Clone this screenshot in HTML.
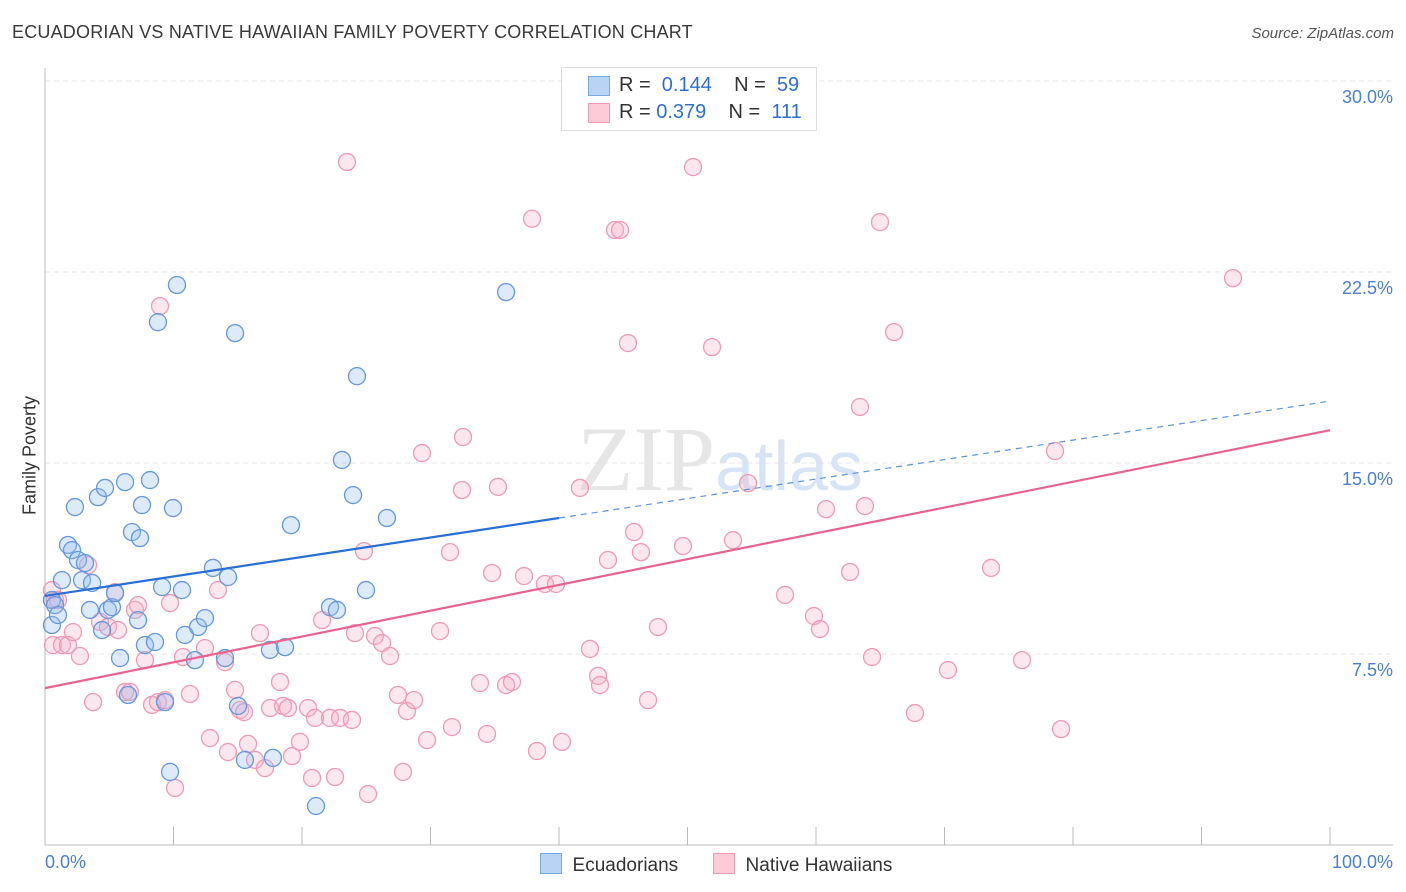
<!DOCTYPE html>
<html><head><meta charset="utf-8">
<style>
body{margin:0;background:#fff;font-family:"Liberation Sans",sans-serif;}
#wrap{position:relative;width:1406px;height:892px;overflow:hidden;}
.t{position:absolute;white-space:nowrap;}
</style></head>
<body>
<div id="wrap">
<div class="t" style="left:12px;top:22px;font-size:18px;color:#3a3a3a;letter-spacing:0.2px">ECUADORIAN VS NATIVE HAWAIIAN FAMILY POVERTY CORRELATION CHART</div>
<div class="t" style="right:12px;top:25px;font-size:15px;color:#555;font-style:italic">Source: ZipAtlas.com</div>
<svg id="svg" width="1406" height="892" style="position:absolute;left:0;top:0"></svg>
</div>
<script>
const yTicks=[7.5,15,22.5,30];
const yTickLabels=["7.5%","15.0%","22.5%","30.0%"];
const xTicks=[0,10,20,30,40,50,60,70,80,90,100];
const blueX=[0.54,0.78,0.54,1.01,1.32,1.79,2.10,2.33,2.57,3.11,2.88,3.66,3.50,4.12,4.67,4.44,4.90,5.21,5.45,5.84,6.23,6.46,6.77,7.39,7.24,7.55,7.78,8.17,8.56,8.79,9.11,9.73,9.96,10.27,10.66,10.89,11.67,11.91,12.45,13.07,14.01,14.24,14.79,15.02,15.56,17.51,17.74,18.68,19.14,21.09,22.18,22.72,23.11,23.97,24.28,24.98,26.61,35.88,9.34];
const blueY=[9.62,9.42,8.64,9.03,10.40,11.78,11.58,13.27,11.19,11.07,10.40,10.29,9.23,13.66,14.02,8.44,9.23,9.34,9.89,7.34,14.25,5.89,12.29,12.05,8.83,13.35,7.85,14.33,7.97,20.53,10.13,2.87,13.23,21.99,10.01,8.25,7.26,8.56,8.91,10.88,7.34,10.52,20.10,5.46,3.34,7.66,3.42,7.77,12.56,1.53,9.34,9.23,15.12,13.74,18.41,10.01,12.84,21.71,5.61];
const pinkX=[0.54,0.78,0.62,1.01,1.32,1.79,2.18,2.72,3.35,3.74,4.28,4.90,5.45,5.68,6.23,6.61,7.00,7.24,7.78,8.33,8.79,8.95,9.34,9.73,10.12,10.74,11.28,12.45,12.84,13.46,14.01,14.24,14.79,15.18,15.49,15.80,16.34,16.73,17.12,17.51,18.29,18.52,18.91,19.22,19.84,20.47,20.78,21.01,21.56,22.18,22.57,22.96,23.50,23.89,24.12,24.82,25.14,25.68,26.23,26.85,27.47,27.86,28.17,28.72,29.34,29.73,30.74,31.52,31.67,32.45,32.53,33.85,34.40,34.79,35.25,35.88,36.34,37.28,37.90,38.29,38.91,39.77,40.23,41.63,42.41,43.04,43.19,43.81,44.36,44.75,45.37,45.84,46.38,46.93,47.70,49.65,50.43,51.91,53.54,54.71,57.59,59.84,60.31,60.78,62.65,63.42,63.81,64.36,64.98,66.07,67.70,70.27,73.62,76.03,78.60,79.07,92.45];
const pinkY=[10.01,9.62,7.85,9.62,7.85,7.85,8.36,7.42,10.99,5.61,8.76,8.56,9.93,8.44,6.01,6.01,9.23,9.42,7.26,5.50,5.61,21.16,5.69,9.50,2.24,7.38,5.93,7.73,4.20,10.01,7.18,3.65,6.09,5.30,5.22,3.97,3.34,8.32,3.02,5.38,6.40,5.46,5.38,3.49,4.05,5.38,2.63,4.99,8.83,4.99,2.67,4.99,26.82,4.91,8.32,11.54,2.00,8.21,7.93,7.42,5.89,2.87,5.26,5.69,15.39,4.12,8.40,11.50,4.63,13.94,16.02,6.36,4.36,10.68,14.06,6.28,6.40,10.56,24.59,3.69,10.25,10.25,4.05,14.02,7.70,6.64,6.28,11.19,24.15,24.15,19.71,12.29,11.50,5.69,8.56,11.74,26.62,19.55,11.97,14.21,9.82,8.99,8.48,13.19,10.72,17.20,13.31,7.38,24.46,20.14,5.18,6.87,10.88,7.26,15.47,4.55,22.26];
const blueTrend=[9.78,17.43];
const pinkTrend=[6.16,16.29];
const blueSolidEnd=40;

const NS="http://www.w3.org/2000/svg";
const svg=document.getElementById('svg');
const X0=45,X1=1330,Y0=845,YSCALE=(845-654)/7.5;
const xs=v=>X0+(X1-X0)*v/100;
const ys=v=>Y0-v*YSCALE;
function mk(tag,attrs){const e=document.createElementNS(NS,tag);for(const k in attrs)e.setAttribute(k,attrs[k]);svg.appendChild(e);return e;}

yTicks.forEach((v,i)=>{
  const g=mk('line',{x1:X0,x2:1393,y1:ys(v),y2:ys(v),stroke:'#e4e4e4','stroke-dasharray':'5,4','stroke-width':1});
  
  
  const t=mk('text',{x:1393,y:ys(v)+22,'text-anchor':'end','font-size':18,fill:'#4a7fd6','font-family':'Liberation Sans, sans-serif'});
  t.textContent=yTickLabels[i];
  
  
});
const ax=mk('line',{x1:X0,x2:1393,y1:Y0,y2:Y0,stroke:'#bbb','stroke-width':1});


const ay=mk('line',{x1:X0,x2:X0,y1:68,y2:Y0,stroke:'#bbb','stroke-width':1});


xTicks.forEach(v=>{
  const l=mk('line',{x1:xs(v),x2:xs(v),y1:Y0,y2:Y0+(v==0?0:-18),stroke:'#bbb','stroke-width':1});
  
  
});
const wm=mk('text',{x:720,y:490,'text-anchor':'middle','font-size':92,fill:'#e6e6e6','font-family':'Liberation Serif, serif'});
wm.innerHTML='ZIP<tspan font-family="Liberation Sans, sans-serif" font-size="70" fill="#d6e4f5">atlas</tspan>';



function pts(X,Y,fill,stroke,name){
  X.forEach((x,i)=>{
    const c=mk('circle',{cx:xs(x),cy:ys(Y[i]),r:8.5,fill:fill,stroke:stroke,'stroke-width':1.3});
    
    
  });
}
pts(pinkX,pinkY,'rgba(246,176,198,0.3)','#ef9ab5','native-hawaiian-point');
pts(blueX,blueY,'rgba(150,190,240,0.32)','#6598dd','ecuadorian-point');

const pl=mk('line',{x1:xs(0),y1:ys(pinkTrend[0]),x2:xs(100),y2:ys(pinkTrend[1]),stroke:'#e8648f','stroke-width':2.2});


const bMid=blueTrend[0]+(blueTrend[1]-blueTrend[0])*blueSolidEnd/100;
const bl=mk('line',{x1:xs(0),y1:ys(blueTrend[0]),x2:xs(blueSolidEnd),y2:ys(bMid),stroke:'#2a6fd6','stroke-width':2.2});


const bd=mk('line',{x1:xs(blueSolidEnd),y1:ys(bMid),x2:xs(100),y2:ys(blueTrend[1]),stroke:'#5f93dc','stroke-width':1.2,'stroke-dasharray':'6,5'});


</script>
<div class="t" style="left:-30px;top:445px;font-size:18px;color:#333;transform:rotate(-90deg);width:120px;text-align:center">Family Poverty</div>
<div class="t" style="left:45px;top:852px;font-size:18px;color:#4a7fd6">0.0%</div>
<div class="t" style="right:13px;top:852px;font-size:18px;color:#4a7fd6">100.0%</div>
<div style="position:absolute;left:561px;top:67px;width:254px;height:62px;border:1px solid #ddd;background:#fff;font-size:20px;color:#333">
  <div style="position:absolute;left:26px;top:8px;width:20px;height:18px;background:#b9d3f5;border:1px solid #7aa6e3"></div>
  <div class="t" style="left:57px;top:6px">R = <span style="color:#2f6fd0">&nbsp;0.144</span>&nbsp;&nbsp;&nbsp; N = &nbsp;<span style="color:#2f6fd0">59</span></div>
  <div style="position:absolute;left:26px;top:35px;width:20px;height:18px;background:#fbcbd8;border:1px solid #ef9ab5"></div>
  <div class="t" style="left:57px;top:33px">R = <span style="color:#2f6fd0">0.379</span>&nbsp;&nbsp;&nbsp; N = &nbsp;<span style="color:#2f6fd0">111</span></div>
</div>
<div style="position:absolute;left:540px;top:853px;font-size:19px;color:#333">
  <span style="display:inline-block;width:20px;height:19px;background:#b9d3f5;border:1px solid #7aa6e3;vertical-align:-3px"></span>&nbsp; Ecuadorians</div>
<div style="position:absolute;left:713px;top:853px;font-size:19px;color:#333">
  <span style="display:inline-block;width:20px;height:19px;background:#fbcbd8;border:1px solid #ef9ab5;vertical-align:-3px"></span>&nbsp; Native Hawaiians</div>
</body></html>
